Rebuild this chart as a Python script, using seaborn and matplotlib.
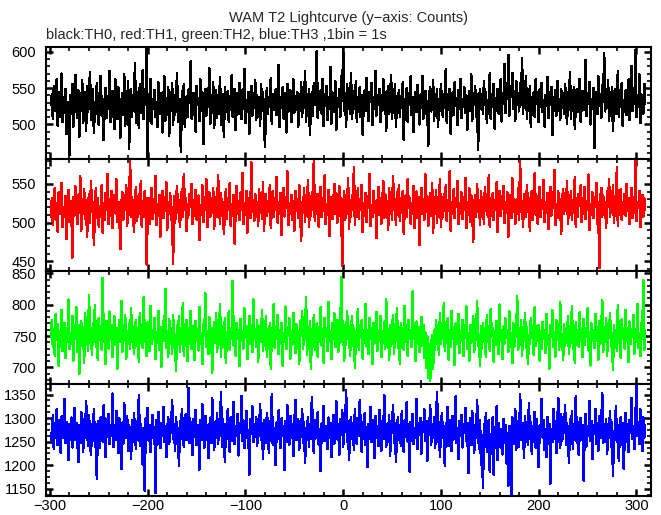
#!/usr/bin/env python3
"""WAM T2 lightcurve: four energy bands, 1 s bins, stacked panels."""

import numpy as np
import pandas as pd
import matplotlib
matplotlib.use("Agg")
import matplotlib.pyplot as plt
from matplotlib.ticker import MultipleLocator
import seaborn as sns

# first bin time (s); bins are 1 s wide
t_start = -299

th0_counts = [
    527, 541, 508, 553, 519, 534, 562, 498, 545, 511, 529, 570, 503, 538, 516, 549, 487, 531, 522, 458, 540,
    515, 556, 497, 533, 568, 524, 509, 547, 483, 536, 519, 561, 502, 529, 544, 491, 553, 517, 538, 572, 506,
    523, 549, 488, 531, 515, 557, 526, 499, 542, 567, 512, 535, 478, 527, 550, 509, 539, 521, 574, 503, 532,
    546, 517, 494, 562, 528, 507, 551, 535, 482, 524, 543, 513, 569, 498, 537, 525, 560, 466, 531, 548, 511,
    539, 520, 585, 502, 544, 528, 495, 556, 516, 533, 575, 507, 549, 527, 604, 452, 541, 518, 563, 501, 535,
    522, 547, 510, 530, 496, 558, 536, 514, 543, 489, 527, 566, 505, 532, 519, 551, 484, 538, 524, 557, 499,
    541, 513, 528, 571, 504, 535, 518, 462, 546, 529, 556, 497, 521, 539, 510, 548, 531, 587, 508, 526, 543,
    515, 490, 553, 527, 536, 505, 562, 519, 544, 473, 530, 549, 512, 538, 524, 577, 501, 533, 516, 558, 495,
    528, 547, 509, 535, 520, 565, 499, 541, 526, 483, 552, 517, 531, 546, 504, 539, 522, 568, 511, 536, 549,
    492, 525, 543, 514, 557, 530, 507, 548, 521, 576, 502, 534, 518, 545, 487, 529, 553, 512, 537, 523, 561,
    506, 540, 519, 533, 498, 555, 526, 544, 510, 469, 532, 550, 515, 538, 527, 564, 501, 542, 520, 535, 548,
    513, 529, 582, 496, 537, 524, 551, 508, 543, 530, 489, 556, 518, 534, 547, 503, 528, 562, 516, 539, 525,
    545, 497, 532, 519, 558, 511, 540, 526, 573, 504, 536, 521, 548, 486, 530, 544, 512, 557, 527, 538, 601,
    509, 534, 520, 547, 515, 563, 498, 541, 528, 553, 506, 537, 522, 579, 501, 544, 530, 517, 559, 493, 536,
    524, 548, 511, 566, 532, 606, 519, 543, 497, 555, 528, 539, 514, 571, 507, 535, 546, 521, 560, 503, 538,
    525, 552, 510, 541, 486, 533, 547, 518, 564, 529, 505, 545, 531, 557, 499, 538, 522, 574, 512, 540, 527,
    549, 503, 534, 519, 562, 527, 544, 491, 536, 553, 514, 530, 568, 508, 541, 525, 556, 497, 533, 520, 547,
    511, 539, 526, 558, 478, 535, 521, 550, 504, 543, 529, 566, 513, 537, 489, 528, 545, 517, 554, 532, 500,
    541, 523, 567, 508, 534, 546, 515, 532, 471, 539, 552, 518, 529, 561, 505, 537, 524, 548, 496, 533, 519,
    555, 528, 510, 542, 531, 576, 502, 538, 520, 549, 487, 530, 544, 513, 558, 526, 536, 499, 547, 522, 563,
    509, 535, 524, 551, 516, 540, 493, 532, 546, 518, 569, 505, 537, 528, 553, 511, 542, 465, 530, 548, 521,
    538, 514, 559, 527, 545, 502, 533, 519, 571, 508, 541, 530, 556, 494, 536, 523, 549, 515, 538, 562, 504,
    543, 529, 583, 516, 548, 535, 596, 512, 552, 538, 571, 521, 546, 505, 560, 533, 540, 518, 557, 527, 591,
    514, 549, 532, 567, 508, 541, 526, 553, 496, 537, 520, 545, 511, 562, 529, 536, 503, 548, 524, 557, 517,
    533, 497, 540, 526, 565, 509, 544, 531, 552, 485, 538, 519, 547, 512, 560, 528, 535, 506, 549, 523, 541,
    515, 556, 530, 501, 545, 522, 572, 508, 537, 526, 551, 494, 533, 548, 517, 539, 563, 504, 530, 546, 520,
    537, 589, 512, 543, 529, 558, 500, 535, 521, 550, 467, 532, 545, 514, 566, 527, 541, 509, 554, 531, 598,
    518, 544, 526, 561, 505, 539, 523, 552, 491, 536, 548, 515, 530, 573, 510, 542, 525, 557, 498, 534, 520,
    547, 513, 538, 562, 506, 531, 581, 519, 545, 528, 603, 510, 537, 524, 569, 502, 541, 533, 515, 556, 529,
]

th1_counts = [
    508, 531, 497, 522, 545, 503, 517, 488, 539, 512, 526, 551, 494, 520, 507, 534, 479, 515, 542, 501, 528,
    516, 455, 533, 509, 547, 521, 498, 536, 513, 560, 490, 524, 511, 543, 505, 529, 482, 518, 537, 500, 553,
    514, 527, 471, 519, 544, 506, 532, 495, 521, 510, 548, 487, 525, 503, 538, 517, 563, 498, 530, 509, 541,
    493, 522, 535, 512, 556, 501, 527, 515, 466, 520, 539, 504, 531, 518, 549, 496, 524, 510, 582, 507, 533,
    519, 488, 528, 546, 502, 516, 537, 511, 553, 494, 523, 508, 540, 526, 446, 514, 532, 499, 521, 545, 505,
    530, 513, 560, 497, 524, 509, 536, 482, 519, 541, 506, 528, 515, 552, 491, 526, 511, 538, 503, 520, 447,
    534, 500, 522, 547, 512, 529, 495, 518, 543, 507, 563, 516, 531, 489, 524, 510, 537, 521, 550, 498, 515,
    527, 542, 504, 519, 535, 478, 523, 510, 548, 501, 530, 517, 556, 494, 521, 539, 508, 526, 513, 545, 492,
    518, 533, 507, 561, 524, 499, 538, 512, 527, 485, 520, 543, 505, 531, 516, 551, 496, 524, 509, 536, 473,
    522, 547, 511, 528, 503, 539, 517, 564, 498, 525, 510, 541, 487, 519, 532, 506, 578, 514, 529, 502, 537,
    511, 524, 496, 543, 518, 530, 505, 552, 489, 521, 537, 509, 526, 514, 548, 493, 523, 540, 507, 531, 516,
    559, 500, 527, 512, 538, 484, 520, 545, 508, 533, 519, 566, 497, 525, 511, 536, 503, 528, 490, 541, 515,
    530, 506, 549, 521, 476, 527, 513, 544, 501, 535, 518, 555, 494, 522, 509, 539, 516, 582, 502, 529, 512,
    537, 495, 523, 546, 507, 531, 515, 561, 498, 524, 510, 542, 483, 519, 533, 505, 527, 550, 511, 538, 500,
    521, 547, 509, 532, 444, 518, 540, 503, 526, 514, 557, 492, 529, 508, 536, 520, 572, 497, 523, 511, 544,
    505, 530, 517, 549, 488, 525, 512, 538, 501, 534, 519, 563, 496, 522, 507, 541, 514, 528, 480, 519, 546,
    510, 532, 499, 524, 553, 506, 537, 515, 528, 491, 545, 512, 530, 504, 560, 518, 526, 497, 539, 513, 549,
    502, 527, 516, 541, 486, 523, 535, 508, 556, 519, 531, 499, 525, 512, 547, 493, 528, 540, 506, 533, 471,
    520, 545, 511, 529, 504, 562, 517, 534, 496, 522, 538, 509, 551, 487, 526, 513, 542, 500, 530, 518, 556,
    495, 524, 508, 537, 515, 548, 502, 529, 519, 566, 490, 527, 511, 543, 506, 532, 520, 554, 498, 525, 512,
    539, 505, 531, 517, 558, 493, 526, 510, 544, 501, 535, 523, 475, 520, 536, 508, 550, 515, 529, 497, 540,
    513, 527, 499, 546, 520, 532, 507, 561, 494, 524, 511, 538, 503, 529, 516, 552, 488, 522, 541, 509, 534,
    518, 547, 500, 526, 513, 539, 482, 521, 535, 506, 557, 517, 530, 498, 525, 512, 544, 504, 579, 516, 528,
    495, 537, 522, 508, 549, 514, 531, 489, 526, 541, 503, 520, 564, 510, 534, 499, 523, 546, 507, 529, 518,
    555, 501, 527, 513, 538, 492, 524, 546, 509, 532, 519, 568, 497, 521, 506, 540, 515, 530, 485, 527, 543,
    511, 534, 520, 553, 498, 526, 514, 541, 503, 529, 517, 559, 494, 523, 508, 537, 522, 548, 501, 531, 512,
    546, 505, 528, 517, 562, 491, 524, 510, 539, 506, 533, 520, 551, 499, 526, 441, 529, 545, 508, 535, 516,
    527, 493, 540, 521, 556, 507, 531, 514, 548, 500, 525, 512, 571, 496, 530, 518, 543, 504, 526, 511, 537,
    509, 550, 515, 532, 498, 523, 545, 506, 529, 513, 581, 502, 527, 519, 541, 494, 524, 536, 508, 531, 517,
]

th2_counts = [
    748, 776, 732, 761, 719, 785, 744, 769, 703, 757, 738, 792, 726, 752, 771, 715, 763, 741, 808, 729, 755,
    737, 782, 711, 759, 746, 796, 724, 768, 690, 751, 773, 735, 764, 708, 787, 742, 756, 727, 815, 739, 762,
    720, 771, 745, 799, 733, 758, 712, 779, 749, 766, 728, 843, 740, 761, 705, 774, 753, 730, 789, 744, 767,
    716, 757, 781, 736, 763, 698, 752, 775, 741, 806, 725, 760, 747, 783, 713, 754, 738, 770, 729, 795, 743,
    765, 721, 758, 776, 734, 751, 709, 787, 746, 762, 731, 812, 740, 755, 718, 772, 749, 726, 798, 737, 760,
    744, 779, 714, 756, 739, 790, 728, 764, 701, 750, 773, 742, 825, 731, 758, 717, 777, 745, 762, 722, 784,
    737, 753, 695, 768, 747, 781, 725, 759, 740, 803, 719, 755, 734, 776, 710, 763, 748, 790, 729, 752, 767,
    712, 774, 743, 761, 727, 796, 738, 754, 705, 769, 750, 818, 733, 757, 721, 780, 745, 763, 692, 751, 772,
    739, 786, 724, 758, 744, 801, 716, 766, 748, 733, 779, 707, 756, 741, 789, 728, 762, 751, 838, 735, 754,
    719, 771, 746, 760, 702, 777, 742, 757, 730, 794, 749, 765, 713, 756, 782, 738, 750, 724, 809, 744, 761,
    733, 775, 709, 752, 766, 740, 792, 726, 759, 747, 781, 716, 754, 737, 770, 698, 763, 749, 800, 731, 757,
    745, 784, 721, 760, 738, 771, 703, 755, 742, 797, 729, 764, 751, 778, 714, 757, 736, 787, 748, 723, 769,
    741, 758, 706, 774, 752, 789, 730, 762, 745, 812, 720, 756, 739, 773, 697, 761, 747, 783, 728, 755, 770,
    717, 764, 743, 796, 735, 752, 708, 779, 748, 762, 726, 804, 741, 757, 713, 770, 744, 786, 732, 750, 776,
    725, 761, 739, 844, 747, 773, 710, 758, 736, 790, 749, 765, 718, 754, 781, 734, 762, 700, 757, 745, 793,
    728, 768, 750, 775, 714, 759, 742, 801, 733, 756, 721, 779, 746, 763, 706, 771, 738, 754, 788, 727, 760,
    743, 782, 716, 757, 739, 772, 729, 809, 748, 761, 712, 767, 735, 752, 784, 722, 758, 744, 795, 731, 755,
    706, 770, 747, 763, 728, 798, 740, 753, 719, 776, 745, 760, 732, 821, 749, 756, 710, 773, 738, 764, 725,
    751, 780, 734, 768, 715, 756, 700, 749, 684, 737, 678, 731, 752, 697, 760, 728, 775, 744, 756, 720, 786,
    737, 761, 749, 803, 726, 754, 741, 778, 712, 759, 733, 790, 746, 763, 704, 770, 738, 752, 785, 723, 757,
    742, 776, 718, 760, 747, 797, 730, 755, 711, 768, 739, 751, 782, 724, 758, 744, 806, 735, 753, 702, 766,
    729, 771, 745, 759, 716, 783, 740, 754, 727, 792, 748, 762, 709, 757, 736, 774, 750, 721, 800, 743, 756,
    714, 765, 738, 778, 752, 760, 725, 789, 744, 755, 707, 770, 733, 761, 749, 813, 728, 753, 739, 775, 719,
    758, 742, 787, 731, 764, 705, 751, 738, 779, 747, 762, 720, 796, 735, 754, 743, 768, 711, 757, 729, 772,
    745, 760, 723, 785, 739, 752, 698, 767, 748, 791, 732, 756, 717, 775, 744, 761, 728, 804, 740, 753, 712,
    769, 734, 757, 750, 781, 721, 763, 741, 798, 729, 755, 708, 772, 746, 759, 733, 788, 742, 751, 716, 777,
    736, 762, 749, 794, 727, 756, 703, 770, 743, 759, 731, 785, 747, 764, 712, 774, 738, 752, 807, 725, 758,
    741, 779, 719, 761, 748, 787, 732, 755, 696, 768, 744, 760, 726, 799, 739, 753, 715, 777, 746, 762, 730,
    792, 743, 756, 709, 773, 737, 761, 748, 783, 722, 757, 740, 801, 731, 754, 718, 771, 745, 839, 728, 759,
]

th3_counts = [
    1268, 1251, 1307, 1234, 1289, 1262, 1318, 1243, 1296, 1275, 1227, 1304, 1259, 1283, 1341, 1248, 1292, 1266, 1211, 1287, 1255,
    1301, 1238, 1276, 1322, 1253, 1290, 1264, 1207, 1285, 1247, 1313, 1270, 1229, 1298, 1258, 1336, 1281, 1242, 1306, 1261, 1222,
    1288, 1257, 1319, 1240, 1278, 1171, 1294, 1265, 1236, 1302, 1271, 1250, 1327, 1284, 1218, 1297, 1260, 1309, 1245, 1280, 1263,
    1352, 1239, 1286, 1254, 1315, 1272, 1226, 1299, 1267, 1192, 1290, 1246, 1331, 1277, 1258, 1305, 1231, 1284, 1269, 1213, 1296,
    1249, 1310, 1274, 1235, 1293, 1262, 1348, 1241, 1287, 1256, 1201, 1279, 1146, 1300, 1264, 1322, 1252, 1285, 1228, 1273, 1306,
    1259, 1281, 1142, 1296, 1244, 1313, 1270, 1237, 1289, 1263, 1324, 1250, 1283, 1217, 1275, 1301, 1246, 1290, 1268, 1338, 1255,
    1287, 1230, 1302, 1262, 1279, 1199, 1293, 1257, 1318, 1271, 1240, 1284, 1308, 1253, 1276, 1364, 1247, 1291, 1266, 1222, 1298,
    1261, 1317, 1243, 1285, 1270, 1191, 1296, 1254, 1329, 1278, 1238, 1305, 1263, 1286, 1215, 1274, 1300, 1248, 1343, 1269, 1232,
    1292, 1259, 1311, 1246, 1281, 1267, 1355, 1239, 1297, 1273, 1208, 1288, 1256, 1320, 1264, 1229, 1302, 1277, 1251, 1334, 1245,
    1283, 1262, 1309, 1221, 1290, 1271, 1347, 1252, 1295, 1236, 1280, 1315, 1258, 1275, 1180, 1298, 1266, 1325, 1249, 1287, 1260,
    1303, 1242, 1278, 1263, 1330, 1255, 1289, 1214, 1296, 1270, 1248, 1311, 1284, 1227, 1293, 1261, 1351, 1243, 1279, 1268, 1200,
    1291, 1257, 1316, 1273, 1237, 1299, 1264, 1282, 1190, 1294, 1250, 1327, 1276, 1244, 1305, 1262, 1287, 1219, 1281, 1339, 1253,
    1270, 1298, 1232, 1285, 1261, 1319, 1247, 1292, 1205, 1278, 1266, 1303, 1240, 1288, 1256, 1345, 1272, 1226, 1296, 1259, 1281,
    1312, 1244, 1276, 1188, 1289, 1263, 1326, 1251, 1283, 1269, 1234, 1301, 1258, 1290, 1218, 1279, 1307, 1246, 1272, 1335, 1255,
    1288, 1223, 1297, 1265, 1316, 1240, 1284, 1271, 1359, 1249, 1293, 1212, 1276, 1302, 1257, 1286, 1233, 1320, 1268, 1245, 1299,
    1262, 1338, 1274, 1229, 1291, 1256, 1310, 1243, 1281, 1196, 1287, 1266, 1323, 1250, 1296, 1270, 1215, 1304, 1259, 1283, 1241,
    1317, 1268, 1231, 1294, 1257, 1349, 1275, 1239, 1288, 1263, 1306, 1220, 1282, 1272, 1328, 1248, 1290, 1207, 1277, 1301, 1254,
    1286, 1242, 1314, 1267, 1228, 1295, 1261, 1333, 1250, 1280, 1187, 1292, 1269, 1308, 1245, 1276, 1258, 1341, 1235, 1289, 1264,
    1300, 1225, 1283, 1271, 1318, 1252, 1294, 1209, 1279, 1265, 1327, 1244, 1287, 1260, 1303, 1236, 1275, 1356, 1249, 1291, 1218,
    1281, 1310, 1258, 1273, 1199, 1289, 1266, 1324, 1241, 1296, 1270, 1230, 1305, 1255, 1284, 1346, 1247, 1278, 1214, 1293, 1262,
    1307, 1238, 1282, 1268, 1321, 1251, 1290, 1183, 1276, 1299, 1244, 1314, 1263, 1227, 1286, 1258, 1337, 1272, 1235, 1295, 1202,
    1264, 1152, 1288, 1250, 1311, 1229, 1273, 1296, 1186, 1267, 1242, 1302, 1180, 1281, 1256, 1325, 1211, 1290, 1263, 1238, 1277,
    1223, 1298, 1247, 1286, 1204, 1269, 1157, 1283, 1259, 1139, 1302, 1245, 1276, 1318, 1232, 1293, 1266, 1240, 1350, 1272, 1253,
    1289, 1216, 1305, 1261, 1278, 1244, 1331, 1256, 1292, 1225, 1283, 1267, 1313, 1238, 1298, 1250, 1196, 1284, 1271, 1340, 1259,
    1295, 1233, 1276, 1218, 1302, 1262, 1287, 1161, 1270, 1249, 1319, 1256, 1293, 1226, 1280, 1343, 1264, 1237, 1308, 1252, 1285,
    1274, 1327, 1243, 1290, 1265, 1206, 1298, 1257, 1315, 1235, 1281, 1269, 1347, 1248, 1292, 1222, 1277, 1300, 1254, 1286, 1168,
    1271, 1309, 1240, 1283, 1262, 1336, 1251, 1294, 1213, 1278, 1266, 1320, 1245, 1289, 1231, 1304, 1258, 1275, 1353, 1247, 1288,
    1263, 1297, 1224, 1280, 1268, 1314, 1239, 1291, 1178, 1272, 1255, 1326, 1249, 1285, 1209, 1277, 1301, 1243, 1290, 1193, 1266,
    1311, 1250, 1287, 1228, 1296, 1269, 1342, 1256, 1283, 1234, 1299, 1372, 1262, 1291, 1245, 1318, 1274, 1230, 1302, 1259, 1284,
]

bands = ["TH0", "TH1", "TH2", "TH3"]
colors = ["#000000", "#ff0000", "#00ff00", "#0000ff"]
ylims = [(452, 607), (437, 582), (674, 853), (1135, 1373)]
ytick_major = [50, 50, 50, 50]
ytick_minor = [10, 10, 10, 12.5]
xlim = (-304, 315)

sns.set_style("ticks")
plt.rcParams["font.family"] = ["Liberation Sans", "DejaVu Sans"]
plt.rcParams["font.size"] = 11

fig, axes = plt.subplots(4, 1, figsize=(6.61, 5.15), dpi=100, sharex=True)
fig.subplots_adjust(left=0.0696, right=0.985, bottom=0.037, top=0.909, hspace=0)

for ax, band, counts, color, ylim, major, minor in zip(
        axes, bands, [th0_counts, th1_counts, th2_counts, th3_counts],
        colors, ylims, ytick_major, ytick_minor):
    df = pd.DataFrame({"time": t_start + np.arange(len(counts)), "counts": counts})
    sns.lineplot(data=df, x="time", y="counts", ax=ax, color=color,
                 linewidth=1.1, estimator=None, legend=False, antialiased=False)
    ax.set_xlim(*xlim)
    ax.set_ylim(*ylim)
    ax.set_xlabel("")
    ax.set_ylabel("")
    ax.xaxis.set_major_locator(MultipleLocator(100))
    ax.xaxis.set_minor_locator(MultipleLocator(20))
    ax.yaxis.set_major_locator(MultipleLocator(major))
    ax.yaxis.set_minor_locator(MultipleLocator(minor))
    ax.tick_params(which="both", direction="in", top=True, right=True,
                   colors="black", labelsize=10.5)
    ax.tick_params(axis="y", which="major", pad=7)
    ax.tick_params(axis="x", which="major", pad=2)
    ax.tick_params(which="major", length=5, width=1.8)
    ax.tick_params(which="minor", length=3, width=1.2)
    for side in ax.spines.values():
        side.set_linewidth(1.5)
        side.set_color("black")

fig.text(0.527, 0.965, "WAM T2 Lightcurve (y\u2212axis: Counts)",
         ha="center", va="center", fontsize=10.5)
fig.text(0.0696, 0.932, "black:TH0, red:TH1, green:TH2, blue:TH3 ,1bin = 1s",
         ha="left", va="center", fontsize=10.5)

fig.savefig("out.png", dpi=100)
plt.close(fig)
